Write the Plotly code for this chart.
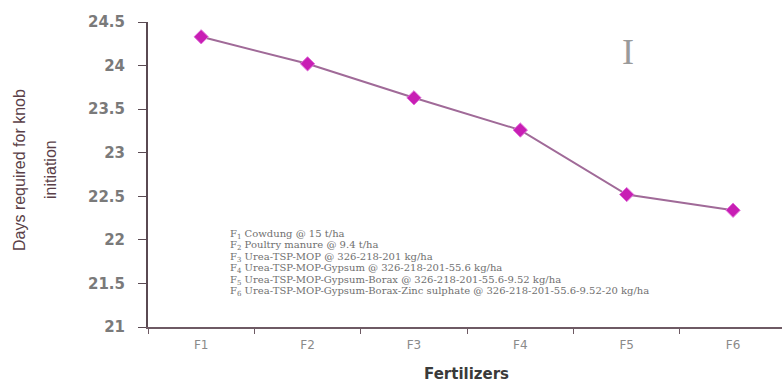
import plotly.graph_objects as go

categories = ["F1", "F2", "F3", "F4", "F5", "F6"]
days = [24.33, 24.02, 23.63, 23.26, 22.52, 22.34]
ytick_vals = [21, 21.5, 22, 22.5, 23, 23.5, 24, 24.5]
ytick_text = ["21", "21.5", "22", "22.5", "23", "23.5", "24", "24.5"]
legend_lines = [
    "F<sub>1</sub> Cowdung @ 15 t/ha",
    "F<sub>2</sub> Poultry manure @ 9.4 t/ha",
    "F<sub>3</sub> Urea-TSP-MOP @ 326-218-201 kg/ha",
    "F<sub>4</sub> Urea-TSP-MOP-Gypsum @ 326-218-201-55.6 kg/ha",
    "F<sub>5</sub> Urea-TSP-MOP-Gypsum-Borax @ 326-218-201-55.6-9.52 kg/ha",
    "F<sub>6</sub> Urea-TSP-MOP-Gypsum-Borax-Zinc sulphate @ 326-218-201-55.6-9.52-20 kg/ha",
]

W, H = 782, 383
L, R, T, B = 148, 0, 22, 56
pw, ph = W - L - R, H - T - B

def px(x):
    return (x - L) / pw

def py(y):
    return (H - B - y) / ph

fig = go.Figure()
fig.add_trace(go.Scatter(
    x=categories, y=days, mode="lines+markers",
    line=dict(color="#a06a98", width=2),
    marker=dict(symbol="diamond", size=11, color="#c81eb4",
                line=dict(color="#e070d8", width=1)),
    showlegend=False,
))

annotations = []
for i, txt in enumerate(legend_lines):
    annotations.append(dict(
        xref="paper", yref="paper", x=px(228), y=py(234 + i * 11.5),
        text=txt, showarrow=False, xanchor="left", yanchor="middle",
        font=dict(family="DejaVu Serif", size=10, color="#707070"),
    ))
annotations.append(dict(
    xref="paper", yref="paper", x=px(19), y=py(170), xanchor="center", yanchor="middle",
    text="Days required for knob", textangle=-90, showarrow=False,
    font=dict(family="Liberation Sans Narrow, Liberation Sans, Arial", size=16, color="#5a3f48"),
))
annotations.append(dict(
    xref="paper", yref="paper", x=px(50), y=py(170), xanchor="center", yanchor="middle",
    text="initiation", textangle=-90, showarrow=False,
    font=dict(family="Liberation Sans Narrow, Liberation Sans, Arial", size=16, color="#5a3f48"),
))
annotations.append(dict(
    xref="paper", yref="paper", x=px(466), y=py(374), xanchor="center", yanchor="middle",
    text="<b>Fertilizers</b>", showarrow=False,
    font=dict(family="DejaVu Sans", size=15, color="#3a3a3a"),
))
annotations.append(dict(
    xref="paper", yref="paper", x=px(628), y=py(52), xanchor="center", yanchor="middle",
    text="I", showarrow=False,
    font=dict(family="Liberation Serif", size=36, color="#9a9a9a"),
))

fig.update_layout(
    width=W, height=H,
    margin=dict(l=L, r=R, t=T, b=B),
    paper_bgcolor="white", plot_bgcolor="white",
    xaxis=dict(
        type="category", range=[-0.5, 5.46],
        showline=True, linecolor="#6e5a64", linewidth=2,
        ticks="outside", ticklen=5, tickcolor="#6e5a64", tickson="boundaries",
        showgrid=False, zeroline=False,
        tickfont=dict(family="DejaVu Sans", size=12, color="#8a8a8a"),
        ticklabelstandoff=6,
    ),
    yaxis=dict(
        range=[21, 24.5], tickvals=ytick_vals, ticktext=ytick_text,
        showline=True, linecolor="#5a4a52", linewidth=2,
        ticks="outside", ticklen=8, tickcolor="#5a4a52",
        showgrid=False, zeroline=False,
        tickfont=dict(family="DejaVu Sans", size=15, color="#7a7a7a", weight="bold"),
        ticklabelstandoff=10,
    ),
    annotations=annotations,
)

fig.write_html("out.html", config={"displayModeBar": False},
               post_script="document.body.style.margin='0';")
